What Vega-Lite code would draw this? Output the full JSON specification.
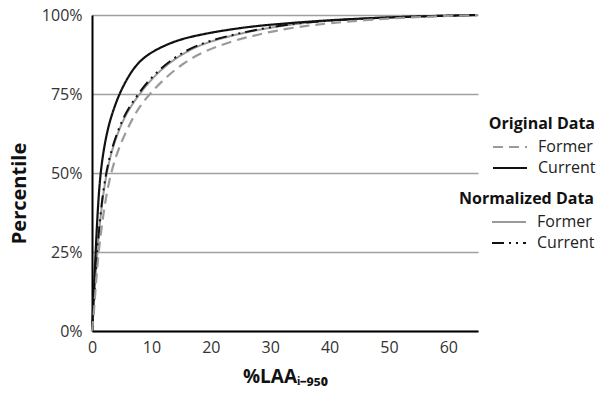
{
  "$schema": "https://vega.github.io/schema/vega-lite/v6.json",
  "width": 386,
  "height": 316,
  "autosize": {"type": "none"},
  "padding": {"left": 92, "top": 15, "right": 122, "bottom": 62},
  "background": "white",
  "config": {
    "font": "Open Sans",
    "view": {"stroke": null},
    "axis": {"labelFont": "Open Sans", "titleFont": "Open Sans", "labelColor": "#333", "titleColor": "#111", "labelFontSize": 16, "titleFontSize": 19, "titleFontWeight": "bold"},
    "legend": {"titleFont": "Open Sans", "labelFont": "Open Sans", "titleFontSize": 16, "labelFontSize": 16, "titleFontWeight": "bold", "labelColor": "#222", "titleColor": "#111"}
  },
  "datasets": {
    "curves": [
      {"group": "Original", "series": "Current", "x": 0, "y": 0},
      {"group": "Original", "series": "Current", "x": 0.15, "y": 0.05},
      {"group": "Original", "series": "Current", "x": 0.35, "y": 0.15},
      {"group": "Original", "series": "Current", "x": 0.62, "y": 0.25},
      {"group": "Original", "series": "Current", "x": 0.95, "y": 0.38},
      {"group": "Original", "series": "Current", "x": 1.4, "y": 0.5},
      {"group": "Original", "series": "Current", "x": 2.1, "y": 0.59},
      {"group": "Original", "series": "Current", "x": 2.85, "y": 0.655},
      {"group": "Original", "series": "Current", "x": 3.7, "y": 0.705},
      {"group": "Original", "series": "Current", "x": 4.6, "y": 0.75},
      {"group": "Original", "series": "Current", "x": 5.8, "y": 0.795},
      {"group": "Original", "series": "Current", "x": 7.3, "y": 0.84},
      {"group": "Original", "series": "Current", "x": 9.3, "y": 0.875},
      {"group": "Original", "series": "Current", "x": 12.4, "y": 0.906},
      {"group": "Original", "series": "Current", "x": 16, "y": 0.93},
      {"group": "Original", "series": "Current", "x": 22, "y": 0.951},
      {"group": "Original", "series": "Current", "x": 27, "y": 0.964},
      {"group": "Original", "series": "Current", "x": 31.6, "y": 0.972},
      {"group": "Original", "series": "Current", "x": 40, "y": 0.984},
      {"group": "Original", "series": "Current", "x": 50, "y": 0.993},
      {"group": "Original", "series": "Current", "x": 60, "y": 0.998},
      {"group": "Original", "series": "Current", "x": 65, "y": 1.0},

      {"group": "Original", "series": "Former", "x": 0, "y": 0},
      {"group": "Original", "series": "Former", "x": 0.3, "y": 0.05},
      {"group": "Original", "series": "Former", "x": 0.65, "y": 0.15},
      {"group": "Original", "series": "Former", "x": 1.1, "y": 0.25},
      {"group": "Original", "series": "Former", "x": 1.95, "y": 0.38},
      {"group": "Original", "series": "Former", "x": 3.1, "y": 0.5},
      {"group": "Original", "series": "Former", "x": 4.7, "y": 0.59},
      {"group": "Original", "series": "Former", "x": 6.6, "y": 0.665},
      {"group": "Original", "series": "Former", "x": 8.0, "y": 0.71},
      {"group": "Original", "series": "Former", "x": 9.7, "y": 0.75},
      {"group": "Original", "series": "Former", "x": 12, "y": 0.795},
      {"group": "Original", "series": "Former", "x": 15.1, "y": 0.845},
      {"group": "Original", "series": "Former", "x": 18.8, "y": 0.885},
      {"group": "Original", "series": "Former", "x": 23.2, "y": 0.915},
      {"group": "Original", "series": "Former", "x": 27, "y": 0.934},
      {"group": "Original", "series": "Former", "x": 31, "y": 0.951},
      {"group": "Original", "series": "Former", "x": 36, "y": 0.966},
      {"group": "Original", "series": "Former", "x": 40, "y": 0.974},
      {"group": "Original", "series": "Former", "x": 46, "y": 0.984},
      {"group": "Original", "series": "Former", "x": 52, "y": 0.991},
      {"group": "Original", "series": "Former", "x": 58, "y": 0.996},
      {"group": "Original", "series": "Former", "x": 65, "y": 1.0},

      {"group": "Normalized", "series": "Former", "x": 0, "y": 0},
      {"group": "Normalized", "series": "Former", "x": 0.22, "y": 0.05},
      {"group": "Normalized", "series": "Former", "x": 0.52, "y": 0.15},
      {"group": "Normalized", "series": "Former", "x": 0.9, "y": 0.25},
      {"group": "Normalized", "series": "Former", "x": 1.5, "y": 0.38},
      {"group": "Normalized", "series": "Former", "x": 2.4, "y": 0.5},
      {"group": "Normalized", "series": "Former", "x": 3.6, "y": 0.59},
      {"group": "Normalized", "series": "Former", "x": 5.15, "y": 0.665},
      {"group": "Normalized", "series": "Former", "x": 6.5, "y": 0.71},
      {"group": "Normalized", "series": "Former", "x": 8.0, "y": 0.75},
      {"group": "Normalized", "series": "Former", "x": 9.7, "y": 0.79},
      {"group": "Normalized", "series": "Former", "x": 11.8, "y": 0.83},
      {"group": "Normalized", "series": "Former", "x": 14.6, "y": 0.87},
      {"group": "Normalized", "series": "Former", "x": 18, "y": 0.905},
      {"group": "Normalized", "series": "Former", "x": 22.5, "y": 0.93},
      {"group": "Normalized", "series": "Former", "x": 27, "y": 0.95},
      {"group": "Normalized", "series": "Former", "x": 33.8, "y": 0.972},
      {"group": "Normalized", "series": "Former", "x": 40.5, "y": 0.983},
      {"group": "Normalized", "series": "Former", "x": 50, "y": 0.993},
      {"group": "Normalized", "series": "Former", "x": 60, "y": 0.998},
      {"group": "Normalized", "series": "Former", "x": 65, "y": 1.0},

      {"group": "Normalized", "series": "Current", "x": 0, "y": 0},
      {"group": "Normalized", "series": "Current", "x": 0.2, "y": 0.05},
      {"group": "Normalized", "series": "Current", "x": 0.5, "y": 0.15},
      {"group": "Normalized", "series": "Current", "x": 0.87, "y": 0.25},
      {"group": "Normalized", "series": "Current", "x": 1.45, "y": 0.38},
      {"group": "Normalized", "series": "Current", "x": 2.3, "y": 0.5},
      {"group": "Normalized", "series": "Current", "x": 3.5, "y": 0.59},
      {"group": "Normalized", "series": "Current", "x": 5.0, "y": 0.665},
      {"group": "Normalized", "series": "Current", "x": 6.3, "y": 0.71},
      {"group": "Normalized", "series": "Current", "x": 7.8, "y": 0.75},
      {"group": "Normalized", "series": "Current", "x": 9.4, "y": 0.79},
      {"group": "Normalized", "series": "Current", "x": 11.5, "y": 0.83},
      {"group": "Normalized", "series": "Current", "x": 14.2, "y": 0.87},
      {"group": "Normalized", "series": "Current", "x": 17.6, "y": 0.905},
      {"group": "Normalized", "series": "Current", "x": 22, "y": 0.93},
      {"group": "Normalized", "series": "Current", "x": 26.6, "y": 0.95},
      {"group": "Normalized", "series": "Current", "x": 33.3, "y": 0.972},
      {"group": "Normalized", "series": "Current", "x": 40, "y": 0.983},
      {"group": "Normalized", "series": "Current", "x": 50, "y": 0.993},
      {"group": "Normalized", "series": "Current", "x": 60, "y": 0.998},
      {"group": "Normalized", "series": "Current", "x": 65, "y": 1.0}
    ]
  },
  "data": {"name": "curves"},
  "encoding": {
    "x": {
      "field": "x", "type": "quantitative",
      "scale": {"domain": [0, 65], "nice": false},
      "axis": {"title": "%LAAᵢ₋₉₅₀", "values": [0, 10, 20, 30, 40, 50, 60], "grid": false, "ticks": false, "labelFlush": false, "domainColor": "#000", "domainWidth": 2, "labelPadding": 8, "titlePadding": 12}
    },
    "y": {
      "field": "y", "type": "quantitative",
      "scale": {"domain": [0, 1], "nice": false},
      "axis": {"title": "Percentile", "titleFontSize": 20, "titleY": 178, "values": [0, 0.25, 0.5, 0.75, 1], "format": ".0%", "grid": true, "gridColor": "#a0a0a0", "gridWidth": 1.4, "ticks": false, "labelFlush": false, "domainColor": "#000", "domainWidth": 2, "labelPadding": 10, "titlePadding": 12}
    }
  },
  "layer": [
    {
      "transform": [{"filter": "datum.group === 'Normalized'"}],
      "mark": {"type": "line", "interpolate": "basis", "strokeWidth": 2},
      "encoding": {
        "order": {"field": "x", "type": "quantitative"},
        "detail": {"field": "series"},
        "color": {
          "field": "series", "type": "nominal",
          "scale": {"domain": ["Former", "Current"], "range": ["#9a9a9a", "#111111"]},
          "legend": {"title": "Normalized Data", "orient": "none", "legendX": 364, "legendY": 176, "titleAnchor": "end", "symbolType": "stroke", "symbolSize": 1156, "symbolStrokeWidth": 2, "clipHeight": 20, "rowPadding": 1, "symbolOffset": 35, "labelOffset": 10, "titlePadding": 5}
        },
        "strokeDash": {
          "field": "series", "type": "nominal",
          "scale": {"domain": ["Former", "Current"], "range": [[1, 0], [12, 5, 2, 5, 2, 5]]},
          "legend": {"title": "Normalized Data", "orient": "none", "legendX": 364, "legendY": 176, "titleAnchor": "end", "symbolType": "stroke", "symbolSize": 1156, "symbolStrokeWidth": 2, "clipHeight": 20, "rowPadding": 1, "symbolOffset": 35, "labelOffset": 10, "titlePadding": 5}
        }
      }
    },
    {
      "transform": [{"filter": "datum.group === 'Original'"}],
      "mark": {"type": "line", "interpolate": "basis", "strokeWidth": 2.2},
      "encoding": {
        "order": {"field": "x", "type": "quantitative"},
        "detail": {"field": "series"},
        "color": {
          "field": "series", "type": "nominal",
          "scale": {"domain": ["Former", "Current"], "range": ["#9a9a9a", "#111111"]},
          "legend": {"title": "Original Data", "orient": "none", "legendX": 397, "legendY": 101, "titleAnchor": "end", "symbolType": "stroke", "symbolSize": 1156, "symbolStrokeWidth": 2, "clipHeight": 20, "rowPadding": 1, "labelOffset": 10, "titlePadding": 5}
        },
        "strokeDash": {
          "field": "series", "type": "nominal",
          "scale": {"domain": ["Former", "Current"], "range": [[10, 6], [1, 0]]},
          "legend": {"title": "Original Data", "orient": "none", "legendX": 397, "legendY": 101, "titleAnchor": "end", "symbolType": "stroke", "symbolSize": 1156, "symbolStrokeWidth": 2, "clipHeight": 20, "rowPadding": 1, "labelOffset": 10, "titlePadding": 5}
        }
      }
    }
  ],
  "resolve": {"scale": {"color": "independent", "strokeDash": "independent"}}
}
